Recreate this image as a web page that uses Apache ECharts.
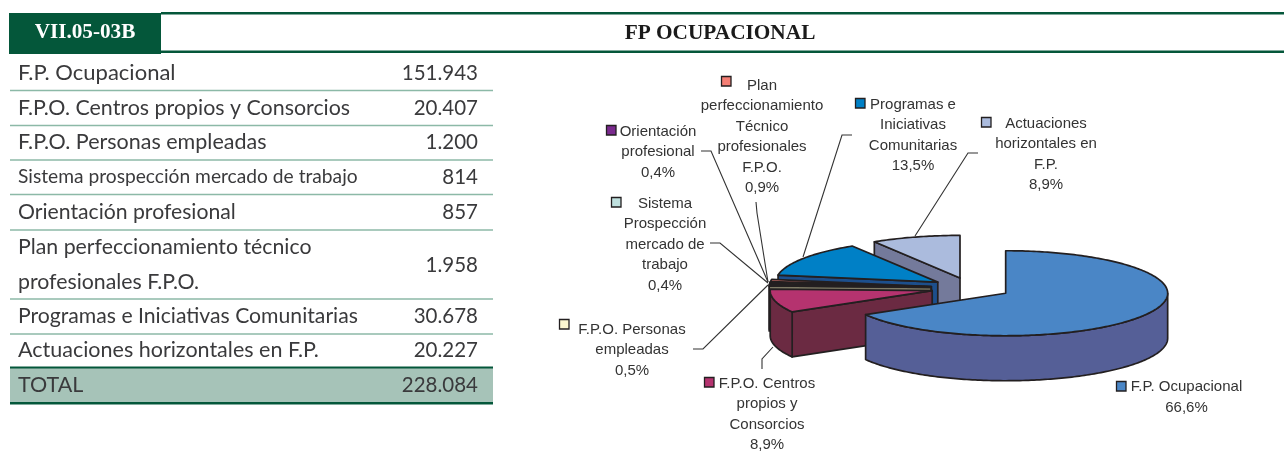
<!DOCTYPE html>
<html>
<head>
<meta charset="utf-8">
<script src="https://cdn.jsdelivr.net/npm/echarts@6/dist/echarts.min.js"></script>
<style>
  html, body { margin: 0; padding: 0; background: #fff; }
  #chart { width: 1284px; height: 463px; }
</style>
</head>
<body>
<div id="chart"></div>
<script>
// datos de la tabla
const rowNames = [
  'F.P. Ocupacional',
  'F.P.O. Centros propios y Consorcios',
  'F.P.O. Personas empleadas',
  'Sistema prospección mercado de trabajo',
  'Orientación profesional',
  'Plan perfeccionamiento técnico\nprofesionales F.P.O.',
  'Programas e Iniciativas Comunitarias',
  'Actuaciones horizontales en F.P.'
];
const rowValues = [151943, 20407, 1200, 814, 857, 1958, 30678, 20227];
const totalName = 'TOTAL';
const sliceNames = [
  'F.P. Ocupacional',
  'F.P.O. Centros\npropios y\nConsorcios',
  'F.P.O. Personas\nempleadas',
  'Sistema\nProspección\nmercado de\ntrabajo',
  'Orientación\nprofesional',
  'Plan\nperfeccionamiento\nTécnico\nprofesionales\nF.P.O.',
  'Programas e\nIniciativas\nComunitarias',
  'Actuaciones\nhorizontales en\nF.P.'
];

// colores: cara superior y lateral de cada porción
const topColors = ['#4a86c6', '#b5336f', '#fbf6cf', '#bfe0de', '#7a2a8e', '#f47e74', '#0080c6', '#abbbdd'];
const sideColors = ['#555f97', '#6b2a42', '#7f7b66', '#5f7070', '#3d1546', '#7b3f3a', '#1d4f8c', '#747a9b'];
const inkColor = '#231f20';
const textColor = '#3a3a3c';
const darkGreen = '#04573a';
const ruleGreen = '#8cb9a7';
const totalFill = '#a6c3b8';

// geometria de la tarta 3D
const pie = { cx: 971, cy: 288, rx: 162, ry: 42.5, depth: 45, explode: 40 };

// posicion de etiquetas: centro del texto, primera linea, cuadrito, linea guia
const labelLayout = [
  { x: 1186.5, y: 387, key: [1121, 386], guide: [] },
  { x: 767, y: 383.5, key: [709, 382], guide: [[762, 369], [762, 359], [773, 347]] },
  { x: 632, y: 329.5, key: [564, 324], guide: [[693, 349], [703, 349], [768, 285]] },
  { x: 665, y: 203.5, key: [616, 202], guide: [[710, 243], [720, 243], [768, 283]] },
  { x: 658, y: 131.5, key: [611, 130], guide: [[701, 151], [711, 151], [768, 282]] },
  { x: 762, y: 85.5, key: [726, 81], guide: [[756, 202], [757, 213], [768, 282]] },
  { x: 913, y: 104.5, key: [860, 103], guide: [[852, 135], [842, 135], [803, 257]] },
  { x: 1046, y: 123.5, key: [986, 122], guide: [[978, 153], [968, 153], [915, 236]] }
];

// filas de la tabla: centro de texto y regla inferior
const rowCenters = [73, 108, 142, 177, 212, 265, 316, 350];
const rowRules = [90.5, 125.5, 160, 194.5, 230, 299, 334];
const rowFonts = [22, 21.4, 21.5, 19.2, 21.2, 21.3, 21.2, 21.5];

const total = rowValues.reduce((a, b) => a + b, 0);

function thousands(v) {
  return String(v).replace(/\B(?=(\d{3})+$)/g, '.');
}
function percent(v) {
  return (v / total * 100).toFixed(1).replace('.', ',') + '%';
}

// angulos acumulados, en sentido horario desde arriba
const sliceAngles = [];
let acc = 0;
rowValues.forEach(v => {
  sliceAngles.push([acc, acc + v / total * 360]);
  acc += v / total * 360;
});

function ellipsePoint(c, deg, dz) {
  const r = deg * Math.PI / 180;
  return [c[0] + pie.rx * Math.sin(r), c[1] - pie.ry * Math.cos(r) + (dz || 0)];
}

function arcPoints(c, from, to, dz) {
  const pts = [];
  const n = Math.max(1, Math.ceil(to - from));
  for (let i = 0; i <= n; i++) {
    pts.push(ellipsePoint(c, from + (to - from) * i / n, dz));
  }
  return pts;
}

function facePoly(points, fill) {
  return {
    type: 'polygon',
    shape: { points: points },
    style: { fill: fill, stroke: inkColor, lineWidth: 1.7, lineJoin: 'round' },
    silent: true
  };
}

function renderSlice(params, api) {
  const idx = api.value(0);
  const from = sliceAngles[idx][0];
  const to = sliceAngles[idx][1];
  const mid = (from + to) / 2 * Math.PI / 180;
  const c = [
    pie.cx + pie.explode * Math.sin(mid),
    pie.cy - pie.explode * (pie.ry / pie.rx) * Math.cos(mid)
  ];
  const children = [];
  const wall = deg => {
    const p = ellipsePoint(c, deg);
    const q = ellipsePoint(c, deg, pie.depth);
    return facePoly([c, p, q, [c[0], c[1] + pie.depth]], sideColors[idx]);
  };
  // paredes radiales que miran al observador
  if (Math.sin(from * Math.PI / 180) < -0.001) children.push(wall(from));
  if (Math.sin(to * Math.PI / 180) > 0.001) children.push(wall(to));
  // pared exterior, solo la mitad delantera
  const a0 = Math.max(from, 90);
  const a1 = Math.min(to, 270);
  if (a1 > a0) {
    const upper = arcPoints(c, a0, a1, 0);
    const lower = arcPoints(c, a0, a1, pie.depth).reverse();
    children.push(facePoly(upper.concat(lower), sideColors[idx]));
  }
  children.push(facePoly([c].concat(arcPoints(c, from, to, 0)), topColors[idx]));
  return { type: 'group', children: children };
}

// se pinta de atras hacia delante; Ocupacional al final
const paintOrder = [7, 6, 5, 4, 3, 2, 1, 0];

const tableFont = 'Lato, "Open Sans", sans-serif';
const graphics = [];

function addText(x, y, text, size, align, color, extra) {
  graphics.push({
    type: 'text',
    x: x,
    y: y,
    silent: true,
    style: Object.assign({
      text: text,
      fontSize: size,
      fontFamily: tableFont,
      fill: color,
      textAlign: align,
      textVerticalAlign: 'middle'
    }, extra || {})
  });
}
function addRect(x, y, w, h, fill) {
  graphics.push({ type: 'rect', silent: true, shape: { x: x, y: y, width: w, height: h }, style: { fill: fill } });
}

// cabecera
addRect(161, 12, 1123, 2.5, darkGreen);
addRect(161, 50.5, 1123, 2.5, darkGreen);
addRect(9, 13, 152, 41, darkGreen);
addText(85, 33, 'VII.05-03B', 21.2, 'center', '#fff', { fontFamily: '"Liberation Serif", serif', fontWeight: 'bold' });
addText(720, 33, 'FP OCUPACIONAL', 21.3, 'center', '#1a1a1a', { fontFamily: '"Liberation Serif", serif', fontWeight: 'bold' });

// tabla
rowNames.forEach((name, i) => {
  addText(18, rowCenters[i], name, rowFonts[i], 'left', textColor, { lineHeight: 35 });
  addText(478, rowCenters[i], thousands(rowValues[i]), 20.5, 'right', textColor);
});
rowRules.forEach(y => addRect(10, y - 0.75, 483, 1.5, ruleGreen));
addRect(10, 367, 483, 36, totalFill);
addRect(10, 366.5, 483, 2, darkGreen);
addRect(10, 402, 483, 2.5, darkGreen);
addText(18, 385, totalName, 21.5, 'left', textColor);
addText(478, 385, thousands(total), 20.5, 'right', textColor);

// etiquetas de la tarta
sliceNames.forEach((name, i) => {
  const l = labelLayout[i];
  const lineH = 20.5;
  graphics.push({
    type: 'text',
    x: l.x,
    y: l.y - lineH / 2,
    silent: true,
    style: {
      text: name + '\n' + percent(rowValues[i]),
      fontSize: 15,
      lineHeight: lineH,
      fontFamily: '"Liberation Sans", Arial, sans-serif',
      fill: '#333',
      textAlign: 'center',
      textVerticalAlign: 'top'
    }
  });
  graphics.push({
    type: 'rect',
    silent: true,
    shape: { x: l.key[0] - 4.5, y: l.key[1] - 4.5, width: 9.5, height: 9.5 },
    style: { fill: topColors[i], stroke: inkColor, lineWidth: 1.3 }
  });
  if (l.guide.length) {
    graphics.push({
      type: 'polyline',
      silent: true,
      z: 10,
      shape: { points: l.guide },
      style: { stroke: '#333', lineWidth: 1.1, fill: 'none' }
    });
  }
});

const chart = echarts.init(document.getElementById('chart'), null, { renderer: 'canvas' });
chart.setOption({
  animation: false,
  backgroundColor: '#fff',
  graphic: { elements: graphics },
  series: [{
    type: 'custom',
    coordinateSystem: 'none',
    renderItem: renderSlice,
    silent: true,
    data: paintOrder.map(i => [i, rowValues[i]])
  }]
});
</script>
</body>
</html>
